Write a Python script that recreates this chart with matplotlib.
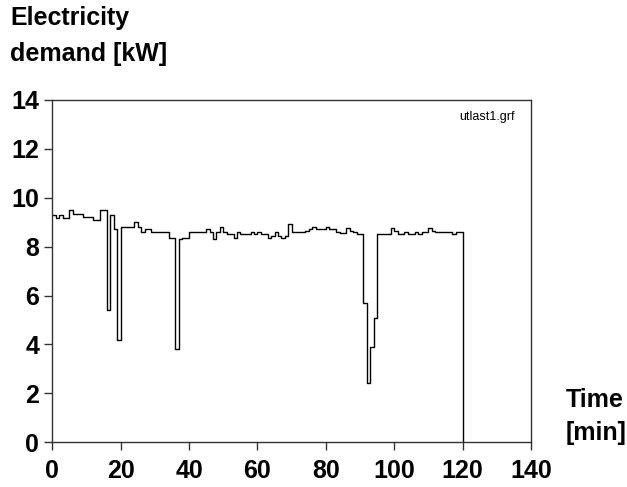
import matplotlib
matplotlib.use("Agg")
import matplotlib.pyplot as plt
import numpy as np

# electricity demand per minute (kW), minute 0..119
demand = [9.30, 9.16, 9.30, 9.16, 9.16, 9.50, 9.34, 9.34, 9.34, 9.20,
          9.20, 9.20, 9.09, 9.09, 9.50, 9.50, 5.41, 9.30, 8.71, 4.18,
          8.79, 8.79, 8.79, 8.79, 9.00, 8.79, 8.61, 8.71, 8.71, 8.59,
          8.59, 8.59, 8.59, 8.59, 8.35, 8.35, 3.82, 8.30, 8.37, 8.37,
          8.59, 8.59, 8.59, 8.59, 8.59, 8.71, 8.59, 8.30, 8.59, 8.79,
          8.59, 8.51, 8.51, 8.37, 8.59, 8.51, 8.51, 8.51, 8.59, 8.51,
          8.59, 8.51, 8.51, 8.37, 8.45, 8.59, 8.45, 8.37, 8.45, 8.92,
          8.59, 8.59, 8.59, 8.59, 8.65, 8.71, 8.79, 8.71, 8.71, 8.71,
          8.79, 8.71, 8.71, 8.59, 8.55, 8.55, 8.75, 8.65, 8.59, 8.51,
          8.51, 5.68, 2.41, 3.91, 5.10, 8.51, 8.51, 8.51, 8.51, 8.78,
          8.65, 8.51, 8.51, 8.59, 8.51, 8.51, 8.59, 8.51, 8.59, 8.59,
          8.78, 8.65, 8.59, 8.59, 8.59, 8.59, 8.59, 8.51, 8.59, 8.59]
minutes = list(range(len(demand) + 1))
x_ticks = [0, 20, 40, 60, 80, 100, 120, 140]
y_ticks = [0, 2, 4, 6, 8, 10, 12, 14]

plt.rcParams['font.family'] = ['Liberation Sans', 'DejaVu Sans']

fig = plt.figure(figsize=(6.27, 4.87), dpi=100)
ax = fig.add_axes([0.0834, 0.0918, 0.7635, 0.7029])

t = np.array(minutes, dtype=float)
v = np.array(demand + [0.0])
ax.step(t, v, where='post', color='black', lw=1.0)

ax.set_xlim(0, 140)
ax.set_ylim(0, 14)
ax.set_xticks(x_ticks)
ax.set_yticks(y_ticks)
for s in ax.spines.values():
    s.set_color('#333333')
    s.set_linewidth(1.0)
ax.tick_params(axis='both', direction='out', length=6, width=1.0, color='#333333')
ax.tick_params(axis='x', pad=6)
ax.tick_params(axis='y', pad=3.5)
for lab in ax.get_xticklabels() + ax.get_yticklabels():
    lab.set_fontsize(18)
    lab.set_fontweight('bold')

fig.text(0.016, 0.988, "Electricity\ndemand [kW]", ha='left', va='top',
         fontsize=18, fontweight='bold', linespacing=1.65)
fig.text(0.902, 0.204, "Time\n[min]", ha='left', va='top',
         fontsize=18, fontweight='bold', linespacing=1.5)
ax.text(0.967, 0.95, "utlast1.grf", transform=ax.transAxes, ha='right', va='center',
        fontsize=9)

fig.savefig("out.png", dpi=100)
